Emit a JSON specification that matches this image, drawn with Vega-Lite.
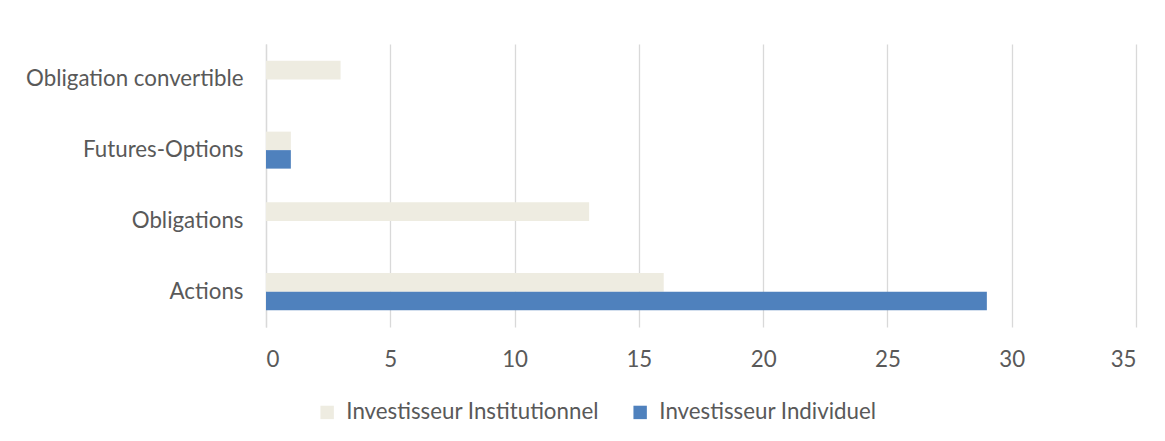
{
  "$schema": "https://vega.github.io/schema/vega-lite/v6.json",
  "width": 870,
  "height": 283,
  "autosize": {"type": "none"},
  "padding": {"left": 266, "top": 44, "right": 29, "bottom": 114},
  "background": "white",
  "data": {
    "values": [
      {"cat": "Obligation convertible", "serie": "Investisseur Institutionnel", "val": 3},
      {"cat": "Obligation convertible", "serie": "Investisseur Individuel", "val": 0},
      {"cat": "Futures-Options", "serie": "Investisseur Institutionnel", "val": 1},
      {"cat": "Futures-Options", "serie": "Investisseur Individuel", "val": 1},
      {"cat": "Obligations", "serie": "Investisseur Institutionnel", "val": 13},
      {"cat": "Obligations", "serie": "Investisseur Individuel", "val": 0},
      {"cat": "Actions", "serie": "Investisseur Institutionnel", "val": 16},
      {"cat": "Actions", "serie": "Investisseur Individuel", "val": 29}
    ]
  },
  "mark": {"type": "bar"},
  "encoding": {
    "y": {
      "field": "cat",
      "type": "nominal",
      "sort": ["Obligation convertible", "Futures-Options", "Obligations", "Actions"],
      "scale": {"paddingInner": 0.477, "paddingOuter": 0.2385},
      "axis": {
        "title": null,
        "ticks": false,
        "labelPadding": 23,
        "labelFont": "Lato",
        "labelFontSize": 22.3,
        "labelColor": "#595959",
        "domainColor": "#D9D9D9",
        "domainWidth": 1.3,
        "labelLimit": 400
      }
    },
    "yOffset": {
      "field": "serie",
      "type": "nominal",
      "sort": ["Investisseur Institutionnel", "Investisseur Individuel"],
      "scale": {"paddingInner": 0, "paddingOuter": 0}
    },
    "x": {
      "field": "val",
      "type": "quantitative",
      "scale": {"domain": [0, 35], "nice": false},
      "axis": {
        "title": null,
        "values": [0, 5, 10, 15, 20, 25, 30, 35],
        "ticks": false,
        "domain": false,
        "labelPadding": 21,
        "labelFont": "Lato",
        "labelFontSize": 22.3,
        "labelColor": "#595959",
        "gridColor": "#D9D9D9",
        "gridWidth": 1.3
      }
    },
    "color": {
      "field": "serie",
      "type": "nominal",
      "scale": {
        "domain": ["Investisseur Institutionnel", "Investisseur Individuel"],
        "range": ["#EEECE1", "#4F81BD"]
      },
      "legend": {
        "title": null,
        "orient": "none",
        "legendX": 50,
        "legendY": 357,
        "direction": "horizontal",
        "symbolType": "square",
        "symbolSize": 180,
        "symbolStrokeWidth": 0,
        "labelFont": "Lato",
        "labelFontSize": 22.3,
        "labelColor": "#595959",
        "labelOffset": 8,
        "columnPadding": 30,
        "labelLimit": 400
      }
    }
  },
  "config": {
    "view": {"stroke": null}
  }
}
